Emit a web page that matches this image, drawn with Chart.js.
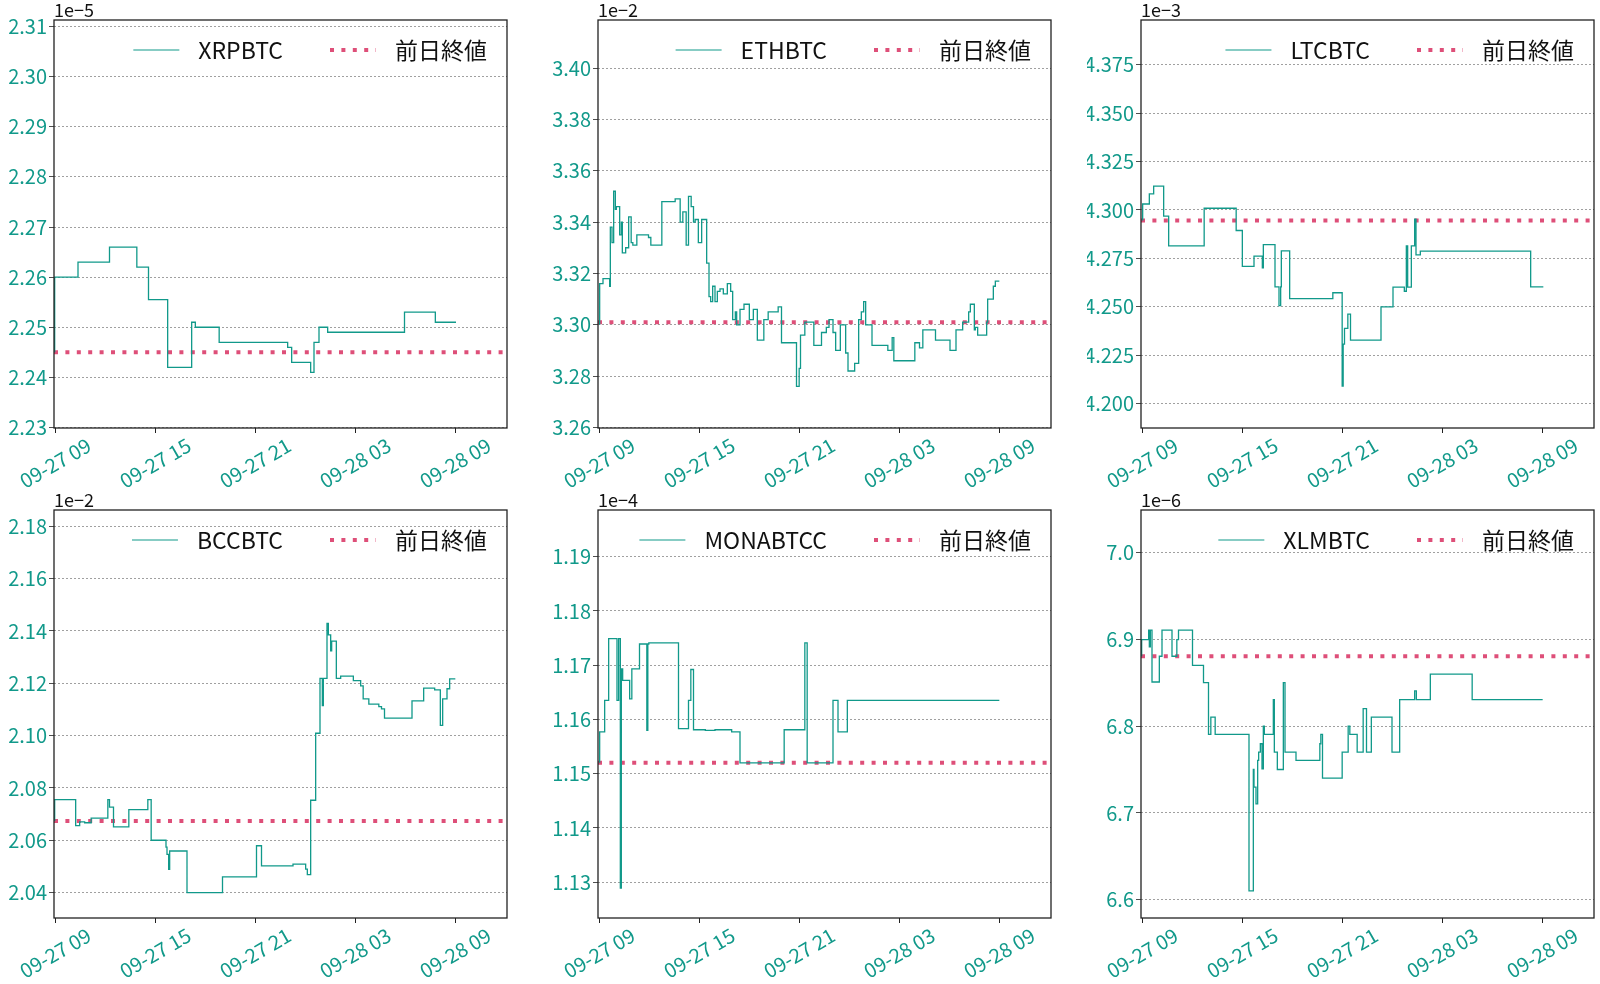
<!DOCTYPE html>
<html>
<head>
<meta charset="utf-8">
<script src="https://cdn.jsdelivr.net/npm/chart.js@4"></script>
<style>
  body { margin: 0; background: #fff; }
  #wrap { position: relative; width: 1600px; height: 984px; }
  canvas { position: absolute; }
</style>
</head>
<body>
<div id="wrap"></div>
<script>
// hours since 09-27 00:00
const xMin = 8.92, xMax = 36.1;
const xTicks = [9, 15, 21, 27, 33];
const refLabel = "前日終値";

const xrpTimes = [8.96, 10.36, 12.25, 13.89, 14.59, 15.74, 17.18, 17.4, 18.83, 22.94, 23.18, 24.32, 24.52, 24.82, 25.34, 29.95, 31.8, 32.2, 33.04];
const xrpValues = [2.245, 2.260, 2.263, 2.266, 2.262, 2.2555, 2.242, 2.251, 2.250, 2.247, 2.246, 2.243, 2.241, 2.247, 2.250, 2.249, 2.253, 2.251, 2.251];

const ethTimes = [9.02, 9.22, 9.62, 9.66, 9.76, 9.86, 9.96, 10.02, 10.22, 10.32, 10.38, 10.58, 10.76, 10.91, 11.01, 11.25, 11.95, 12.09, 12.75, 13.55, 13.85, 14.01, 14.21, 14.35, 14.51, 14.65, 14.75, 14.94, 15.14, 15.44, 15.58, 15.68, 15.8, 15.94, 16.08, 16.24, 16.44, 16.68, 16.88, 17.0, 17.16, 17.24, 17.44, 17.68, 18.0, 18.24, 18.48, 18.87, 19.13, 19.73, 19.93, 20.83, 20.99, 21.07, 21.33, 21.87, 22.33, 22.62, 22.78, 23.02, 23.18, 23.46, 23.78, 23.92, 24.32, 24.56, 24.72, 24.86, 24.98, 25.36, 26.31, 26.57, 26.67, 27.93, 28.21, 28.41, 29.17, 30.04, 30.4, 30.8, 31.16, 31.26, 31.5, 31.56, 31.7, 32.24, 32.3, 32.64, 32.76, 32.9, 33.0];
const ethValues = [3.300, 3.316, 3.318, 3.315, 3.338, 3.332, 3.352, 3.345, 3.346, 3.335, 3.340, 3.328, 3.330, 3.342, 3.332, 3.331, 3.335, 3.334, 3.331, 3.348, 3.349, 3.340, 3.344, 3.331, 3.350, 3.346, 3.340, 3.341, 3.332, 3.341, 3.324, 3.311, 3.309, 3.315, 3.309, 3.313, 3.314, 3.312, 3.316, 3.313, 3.302, 3.305, 3.300, 3.306, 3.308, 3.302, 3.306, 3.294, 3.302, 3.305, 3.307, 3.293, 3.276, 3.283, 3.296, 3.301, 3.292, 3.297, 3.299, 3.302, 3.297, 3.290, 3.300, 3.289, 3.282, 3.285, 3.302, 3.305, 3.309, 3.300, 3.292, 3.290, 3.295, 3.286, 3.293, 3.291, 3.298, 3.294, 3.290, 3.298, 3.301, 3.305, 3.308, 3.298, 3.299, 3.296, 3.301, 3.310, 3.315, 3.317, 3.317];

const ltcTimes = [9.02, 9.42, 9.68, 10.28, 10.58, 12.71, 14.63, 15.0, 15.7, 16.2, 16.26, 16.96, 17.2, 17.3, 17.34, 17.84, 20.43, 20.99, 21.05, 21.13, 21.33, 21.49, 23.32, 24.04, 24.72, 24.84, 24.92, 25.14, 25.34, 25.42, 25.68, 32.3, 32.42, 33.06];
const ltcValues = [4.2945, 4.3031, 4.3083, 4.3123, 4.2968, 4.2814, 4.3009, 4.2894, 4.2708, 4.2761, 4.2701, 4.2821, 4.2603, 4.2506, 4.2603, 4.2789, 4.2542, 4.2572, 4.2090, 4.2307, 4.2388, 4.2462, 4.2327, 4.2499, 4.2601, 4.2580, 4.2814, 4.2601, 4.2814, 4.2952, 4.2768, 4.2787, 4.2603, 4.2603];

const bccTimes = [8.96, 10.22, 10.46, 10.76, 11.15, 12.15, 12.25, 12.49, 13.41, 14.55, 14.75, 15.64, 15.7, 15.8, 15.86, 16.9, 19.03, 21.07, 21.37, 23.26, 24.02, 24.12, 24.32, 24.62, 24.88, 25.02, 25.08, 25.3, 25.38, 25.52, 25.58, 25.86, 26.12, 26.88, 27.32, 27.47, 27.81, 28.41, 28.57, 28.75, 30.4, 31.1, 31.76, 32.1, 32.24, 32.5, 32.66, 32.96, 33.0];
const bccValues = [2.0674, 2.0755, 2.0656, 2.0670, 2.0667, 2.0685, 2.0755, 2.0727, 2.0651, 2.0717, 2.0755, 2.0600, 2.0574, 2.0546, 2.0489, 2.0559, 2.0400, 2.0460, 2.0579, 2.0502, 2.0509, 2.0490, 2.0469, 2.0753, 2.1009, 2.1219, 2.1115, 2.1219, 2.1429, 2.1385, 2.1324, 2.1361, 2.1219, 2.1227, 2.1210, 2.1190, 2.1140, 2.1120, 2.1111, 2.1102, 2.1067, 2.1133, 2.1181, 2.1175, 2.1039, 2.1140, 2.1179, 2.1217, 2.1217];

const monaTimes = [9.02, 9.32, 9.56, 10.06, 10.16, 10.26, 10.32, 10.4, 10.82, 10.95, 11.41, 11.85, 11.91, 11.97, 13.75, 14.35, 14.49, 14.65, 15.36, 15.94, 16.94, 17.44, 20.09, 21.33, 21.47, 23.02, 23.32, 23.88, 23.98, 33.0];
const monaValues = [1.1520, 1.1577, 1.1635, 1.1749, 1.1635, 1.1749, 1.1289, 1.1693, 1.1672, 1.1638, 1.1693, 1.1739, 1.1580, 1.1739, 1.1741, 1.1583, 1.1635, 1.1692, 1.1581, 1.1580, 1.1581, 1.1577, 1.1520, 1.1581, 1.1741, 1.1520, 1.1635, 1.1577, 1.1635, 1.1635];

const xlmTimes = [8.96, 9.38, 9.42, 9.48, 9.58, 10.02, 10.18, 10.78, 11.07, 11.17, 12.01, 12.67, 12.97, 13.11, 13.37, 15.4, 15.66, 15.7, 15.82, 15.92, 15.98, 16.08, 16.18, 16.26, 16.32, 16.86, 16.92, 17.1, 17.46, 17.56, 18.22, 19.65, 19.71, 19.81, 20.99, 21.35, 21.45, 21.89, 22.25, 22.45, 22.74, 23.98, 24.44, 25.34, 25.44, 26.28, 28.79, 29.07, 33.02];
const xlmValues = [6.8807, 6.9000, 6.9108, 6.8915, 6.9108, 6.8510, 6.8807, 6.9108, 6.8807, 6.9000, 6.9108, 6.8703, 6.8503, 6.7906, 6.8106, 6.7906, 6.6102, 6.7501, 6.7297, 6.7104, 6.7605, 6.7701, 6.7798, 6.7509, 6.8002, 6.7906, 6.8306, 6.7701, 6.7501, 6.8503, 6.7701, 6.7605, 6.7798, 6.7906, 6.7401, 6.7701, 6.8002, 6.7906, 6.7701, 6.8202, 6.7701, 6.8106, 6.7701, 6.8306, 6.8407, 6.8306, 6.8600, 6.8306, 6.8306];

const panels = [
  { name: "XRPBTC", exp: "1e\u22125", times: xrpTimes, values: xrpValues, ref: 2.245, min: 2.2299, max: 2.3113, ticks: [2.23, 2.24, 2.25, 2.26, 2.27, 2.28, 2.29, 2.30, 2.31], dec: 2 },
  { name: "ETHBTC", exp: "1e\u22122", times: ethTimes, values: ethValues, ref: 3.301, min: 3.2598, max: 3.4187, ticks: [3.26, 3.28, 3.30, 3.32, 3.34, 3.36, 3.38, 3.40], dec: 2 },
  { name: "LTCBTC", exp: "1e\u22123", times: ltcTimes, values: ltcValues, ref: 4.2945, min: 4.1873, max: 4.3982, ticks: [4.200, 4.225, 4.250, 4.275, 4.300, 4.325, 4.350, 4.375], dec: 3 },
  { name: "BCCBTC", exp: "1e\u22122", times: bccTimes, values: bccValues, ref: 2.0674, min: 2.0303, max: 2.1862, ticks: [2.04, 2.06, 2.08, 2.10, 2.12, 2.14, 2.16, 2.18], dec: 2 },
  { name: "MONABTCC", exp: "1e\u22124", times: monaTimes, values: monaValues, ref: 1.152, min: 1.1234, max: 1.1986, ticks: [1.13, 1.14, 1.15, 1.16, 1.17, 1.18, 1.19], dec: 2 },
  { name: "XLMBTC", exp: "1e\u22126", times: xlmTimes, values: xlmValues, ref: 6.8807, min: 6.5788, max: 7.0494, ticks: [6.6, 6.7, 6.8, 6.9, 7.0], dec: 1 },
];

const TEAL = "#11998a";
const RED = "#de4f79";
const FONT = "'Noto Sans CJK JP', 'Noto Sans', sans-serif";
const colLeft = [0, 544, 1087];
const rowTop = [0, 490];
const rowHeight = [490, 494];

function tickLabel(h) {
  const day = h >= 24 ? "09-28" : "09-27";
  return day + " " + String(h % 24).padStart(2, "0");
}

// border, exponent label, rotated x labels and legend drawn on top
const decor = {
  id: "decor",
  afterDraw(chart, args, opts) {
    const { ctx, chartArea: a } = chart;
    ctx.save();
    ctx.strokeStyle = "#222";
    ctx.lineWidth = 1.3;
    ctx.strokeRect(a.left, a.top, a.right - a.left, a.bottom - a.top);

    ctx.fillStyle = "#111";
    ctx.font = "18px " + FONT;
    ctx.textBaseline = "bottom";
    ctx.fillText(opts.exp, a.left, a.top - 1);

    // x tick labels, centred under the tick like matplotlib
    const xs = chart.scales.x;
    ctx.fillStyle = TEAL;
    ctx.font = "20px " + FONT;
    ctx.textAlign = "center";
    ctx.textBaseline = "middle";
    xTicks.forEach(v => {
      const px = xs.getPixelForValue(v);
      ctx.save();
      ctx.translate(px, a.bottom + 35);
      ctx.rotate(-Math.PI / 6);
      ctx.fillText(tickLabel(v), 0, 0);
      ctx.restore();
    });
    ctx.textAlign = "left";

    // legend, upper right
    ctx.font = "23px " + FONT;
    ctx.textBaseline = "middle";
    const y = a.top + 30;
    const w2 = ctx.measureText(refLabel).width;
    const x2t = a.right - 20 - w2;
    const x2h = x2t - 65;
    const w1 = ctx.measureText(opts.name).width;
    const x1t = x2h - 47 - w1;
    const x1h = x1t - 65;
    ctx.strokeStyle = TEAL;
    ctx.lineWidth = 1.2;
    ctx.beginPath(); ctx.moveTo(x1h, y); ctx.lineTo(x1h + 46, y); ctx.stroke();
    ctx.strokeStyle = RED;
    ctx.lineWidth = 4;
    ctx.setLineDash([4, 7.4]);
    ctx.beginPath(); ctx.moveTo(x2h, y); ctx.lineTo(x2h + 46, y); ctx.stroke();
    ctx.setLineDash([]);
    ctx.fillStyle = "#111";
    ctx.fillText(opts.name, x1t, y);
    ctx.fillText(refLabel, x2t, y);
    ctx.restore();
  }
};

const wrap = document.getElementById("wrap");
panels.forEach((p, i) => {
  const col = i % 3, row = Math.floor(i / 3);
  const canvas = document.createElement("canvas");
  canvas.width = 513;
  canvas.height = rowHeight[row];
  canvas.style.left = colLeft[col] + "px";
  canvas.style.top = rowTop[row] + "px";
  canvas.style.width = "513px";
  canvas.style.height = rowHeight[row] + "px";
  wrap.appendChild(canvas);

  const xAxisHeight = rowHeight[row] - 20 - 408;

  new Chart(canvas.getContext("2d"), {
    type: "line",
    data: {
      datasets: [
        {
          label: p.name,
          data: p.times.map((t, k) => ({ x: t, y: p.values[k] })),
          borderColor: TEAL,
          borderWidth: 1.3,
          stepped: "after",
          pointRadius: 0,
          fill: false,
        },
        {
          label: refLabel,
          data: [{ x: xMin, y: p.ref }, { x: xMax, y: p.ref }],
          borderColor: RED,
          borderWidth: 4,
          borderDash: [4, 7.4],
          pointRadius: 0,
          fill: false,
        },
      ],
    },
    options: {
      responsive: false,
      animation: false,
      devicePixelRatio: 1,
      layout: { padding: { top: 20, right: 6, left: 0, bottom: 0 } },
      plugins: {
        legend: { display: false },
        tooltip: { enabled: false },
        decor: { exp: p.exp, name: p.name },
      },
      scales: {
        x: {
          type: "linear",
          min: xMin,
          max: xMax,
          afterBuildTicks: s => { s.ticks = xTicks.map(v => ({ value: v })); },
          afterFit: s => { s.height = xAxisHeight; s.paddingLeft = 0; s.paddingRight = 0; },
          grid: { drawOnChartArea: false, tickLength: 5, color: "#222" },
          border: { display: false },
          ticks: { display: false },
        },
        y: {
          min: p.min,
          max: p.max,
          afterBuildTicks: s => { s.ticks = p.ticks.map(v => ({ value: v })); },
          afterFit: s => { s.width = 54; },
          grid: { color: "#888", lineWidth: 0.8, tickLength: 5, tickColor: "#222", tickBorderDash: [], borderDash: [2, 2] },
          border: { display: false, dash: [2, 2] },
          ticks: {
            color: TEAL,
            font: { size: 20, family: FONT },
            padding: 2,
            autoSkip: false,
            callback: v => v.toFixed(p.dec),
          },
        },
      },
    },
    plugins: [decor],
  });
});
</script>
</body>
</html>
